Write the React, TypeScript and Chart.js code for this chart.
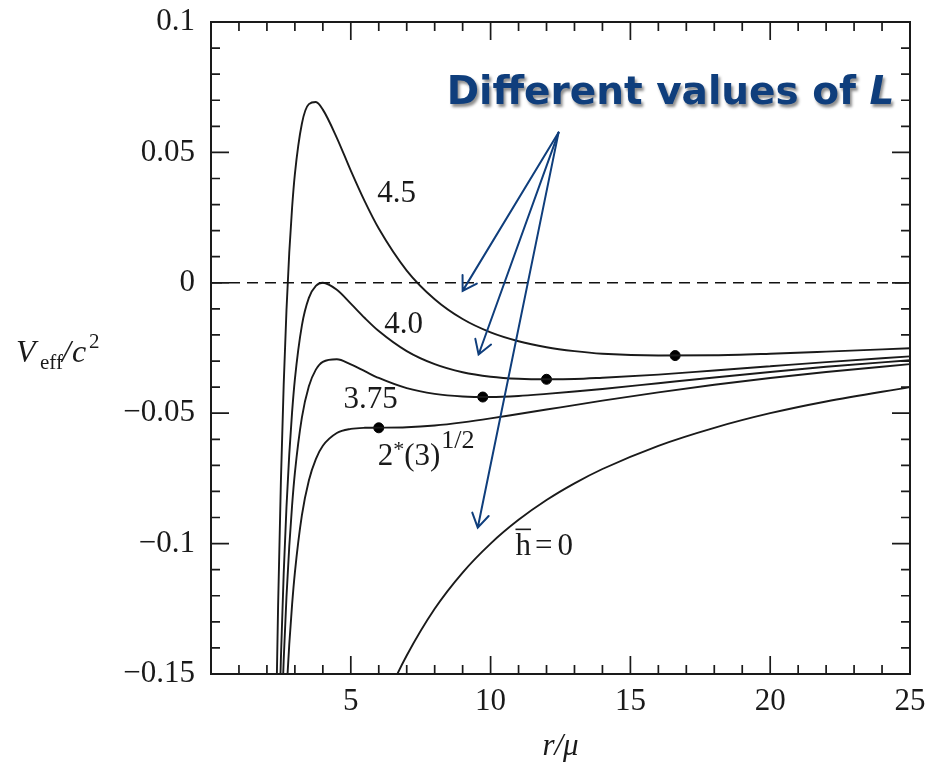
import React, { useEffect, useRef } from 'react';
import { Chart, registerables } from 'chart.js';

Chart.register(...registerables);

// ---- data ----
const R = [2.3, 2.4, 2.5, 2.6, 2.7, 2.8, 2.9, 3.0, 3.25, 3.5, 3.75, 4.0, 4.5, 5, 5.5, 6, 7, 8, 9, 10, 11, 12, 13, 14, 16, 18, 20, 22, 25];
const V_L45 = [-0.1851, -0.1237, -0.076, -0.039, -0.0103, 0.0118, 0.0288, 0.0417, 0.061, 0.0685, 0.0693, 0.0664, 0.0556, 0.043, 0.0312, 0.0208, 0.0047, -0.0063, -0.0139, -0.019, -0.0224, -0.0247, -0.0262, -0.0272, -0.0279, -0.0278, -0.0272, -0.0264, -0.0251];
const V_L40 = [-0.2375, -0.1852, -0.144, -0.1115, -0.0859, -0.0656, -0.0496, -0.037, -0.0164, -0.0058, -0.0012, 0.0, -0.0027, -0.008, -0.0135, -0.0185, -0.0262, -0.0312, -0.0343, -0.036, -0.0368, -0.037, -0.0369, -0.0364, -0.0352, -0.0336, -0.032, -0.0304, -0.0282];
const V_L375 = [-0.2614, -0.2132, -0.175, -0.1446, -0.1203, -0.1009, -0.0854, -0.0729, -0.0517, -0.0397, -0.0333, -0.0303, -0.0293, -0.0313, -0.0339, -0.0365, -0.0404, -0.0426, -0.0436, -0.0438, -0.0434, -0.0426, -0.0417, -0.0407, -0.0385, -0.0363, -0.0342, -0.0322, -0.0297];
const V_L2R3 = [-0.2868, -0.2431, -0.208, -0.1798, -0.157, -0.1385, -0.1234, -0.1111, -0.0892, -0.0758, -0.0676, -0.0625, -0.0576, -0.056, -0.0556, -0.05555, -0.0554, -0.0547, -0.0535, -0.052, -0.0503, -0.0486, -0.0469, -0.0452, -0.042, -0.0391, -0.0365, -0.0342, -0.0312];
const R_H0 = [6, 6.5, 7, 8, 9, 10, 11, 12, 13, 14, 16, 18, 20, 22, 25];
const V_H0 = [-0.1667, -0.1538, -0.1429, -0.125, -0.1111, -0.1, -0.0909, -0.0833, -0.0769, -0.0714, -0.0625, -0.0556, -0.05, -0.0455, -0.04];
const DOT_R = [16.6, 12.0, 9.72, 6.0];
const DOT_V = [-0.0279, -0.037, -0.0438, -0.0556];
const ZERO_R = [0, 25];
const ZERO_V = [0, 0];

const X_MIN = 0;
const X_MAX = 25;
const Y_MIN = -0.15;
const Y_MAX = 0.1;
const X_TICK_STEP = 5;
const Y_TICK_STEP = 0.05;

const TITLE_MAIN = 'Different values of ';
const TITLE_ITALIC = 'L';

// annotation anchors in data coordinates
const CURVE_LABELS = [
  { text: '4.5', r: 6.64, v: 0.034 },
  { text: '4.0', r: 6.89, v: -0.016 },
  { text: '3.75', r: 5.71, v: -0.045 },
];
const ARROW_FROM = { r: 12.43, v: 0.0576 };
const ARROW_TO = [
  { r: 9.0, v: -0.0031 },
  { r: 9.57, v: -0.0275 },
  { r: 9.54, v: -0.0939 },
];

const SERIF = '"Liberation Serif", "Times New Roman", serif';
const INK = '#1a1a1a';
const BLUE = '#0f3e7c';

const zip = (xs: number[], ys: number[]) => xs.map((x, i) => ({ x, y: ys[i] }));

const annotationPlugin = {
  id: 'annotations',
  afterDatasetsDraw(chart: any) {
    const { ctx, scales } = chart;
    const x = scales.x;
    const y = scales.y;
    const px = (r: number) => x.getPixelForValue(r);
    const py = (v: number) => y.getPixelForValue(v);
    ctx.save();
    ctx.fillStyle = INK;
    ctx.textBaseline = 'middle';
    ctx.textAlign = 'center';
    ctx.font = `31px ${SERIF}`;
    CURVE_LABELS.forEach((l) => ctx.fillText(l.text, px(l.r), py(l.v)));

    // 2*(3)^{1/2}
    ctx.textAlign = 'left';
    ctx.textBaseline = 'alphabetic';
    let cx = px(5.96);
    const by = py(-0.0698);
    ctx.font = `31px ${SERIF}`;
    ctx.fillText('2', cx, by);
    cx += ctx.measureText('2').width;
    ctx.font = `22px ${SERIF}`;
    ctx.fillText('*', cx, by - 9);
    cx += ctx.measureText('*').width;
    ctx.font = `31px ${SERIF}`;
    ctx.fillText('(3)', cx, by);
    cx += ctx.measureText('(3)').width + 1;
    ctx.font = `26px ${SERIF}`;
    ctx.fillText('1/2', cx, by - 17);

    // h-bar = 0
    const hx = px(10.89);
    const hy = py(-0.1042);
    ctx.font = `31px ${SERIF}`;
    ctx.fillText('h', hx, hy);
    const hw = ctx.measureText('h').width;
    ctx.fillRect(hx, hy - 26, hw, 1.6);
    ctx.fillText('=', hx + hw + 4, hy);
    const ew = ctx.measureText('=').width;
    ctx.fillText('0', hx + hw + ew + 9, hy);

    // arrows
    ctx.strokeStyle = BLUE;
    ctx.lineWidth = 2;
    ctx.lineCap = 'round';
    const ax = px(ARROW_FROM.r);
    const ay = py(ARROW_FROM.v);
    ARROW_TO.forEach((t) => {
      const tx = px(t.r);
      const ty = py(t.v);
      ctx.beginPath();
      ctx.moveTo(ax, ay);
      ctx.lineTo(tx, ty);
      const ang = Math.atan2(ty - ay, tx - ax);
      const L = 16;
      const spread = 0.55;
      ctx.moveTo(tx - L * Math.cos(ang - spread), ty - L * Math.sin(ang - spread));
      ctx.lineTo(tx, ty);
      ctx.lineTo(tx - L * Math.cos(ang + spread), ty - L * Math.sin(ang + spread));
      ctx.stroke();
    });

    // title
    ctx.font = `bold 39px "DejaVu Sans", Verdana, sans-serif`;
    ctx.fillStyle = BLUE;
    ctx.shadowColor = 'rgba(0,0,0,0.45)';
    ctx.shadowOffsetX = 2;
    ctx.shadowOffsetY = 3;
    ctx.shadowBlur = 3;
    const tx0 = px(8.43);
    const ty0 = py(0.0687);
    ctx.fillText(TITLE_MAIN, tx0, ty0);
    const mw = ctx.measureText(TITLE_MAIN).width;
    ctx.font = `italic bold 39px "DejaVu Sans", Verdana, sans-serif`;
    ctx.fillText(TITLE_ITALIC, tx0 + mw, ty0);
    ctx.restore();
  },
  afterDraw(chart: any) {
    const { ctx, chartArea: a, scales } = chart;
    const x = scales.x;
    const y = scales.y;
    ctx.save();
    ctx.strokeStyle = INK;
    ctx.lineWidth = 1.7;
    ctx.beginPath();
    for (let i = X_MIN; i <= X_MAX; i += 1) {
      const p = x.getPixelForValue(i);
      const len = i % X_TICK_STEP === 0 ? 18 : 9;
      ctx.moveTo(p, a.bottom);
      ctx.lineTo(p, a.bottom - len);
      ctx.moveTo(p, a.top);
      ctx.lineTo(p, a.top + len);
    }
    for (let k = Math.round(Y_MIN * 100); k <= Math.round(Y_MAX * 100); k += 1) {
      const p = y.getPixelForValue(k / 100);
      const len = k % 5 === 0 ? 18 : 9;
      ctx.moveTo(a.left, p);
      ctx.lineTo(a.left + len, p);
      ctx.moveTo(a.right, p);
      ctx.lineTo(a.right - len, p);
    }
    ctx.stroke();
    ctx.lineWidth = 2;
    ctx.strokeRect(a.left, a.top, a.right - a.left, a.bottom - a.top);

    // y-axis label V_eff / c^2
    ctx.fillStyle = INK;
    ctx.textAlign = 'left';
    ctx.textBaseline = 'alphabetic';
    ctx.font = `italic 32px ${SERIF}`;
    ctx.fillText('V', 16, 362);
    ctx.font = `21px ${SERIF}`;
    ctx.fillText('eff', 40, 369);
    ctx.font = `italic 32px ${SERIF}`;
    ctx.fillText('/', 62, 362);
    ctx.fillText('c', 72, 362);
    ctx.font = `21px ${SERIF}`;
    ctx.fillText('2', 89, 348);
    ctx.restore();
  },
};

export default function App() {
  const ref = useRef<HTMLCanvasElement | null>(null);
  useEffect(() => {
    if (!ref.current) return;
    const curve = (data: { x: number; y: number }[]) => ({
      type: 'line' as const,
      data,
      borderColor: INK,
      borderWidth: 1.9,
      pointRadius: 0,
      fill: false,
      cubicInterpolationMode: 'monotone' as const,
    });
    const chart = new Chart(ref.current, {
      type: 'line',
      data: {
        datasets: [
          {
            type: 'line',
            data: zip(ZERO_R, ZERO_V),
            borderColor: '#111',
            borderWidth: 1.6,
            borderDash: [11, 7],
            pointRadius: 0,
          } as any,
          curve(zip(R, V_L45)),
          curve(zip(R, V_L40)),
          curve(zip(R, V_L375)),
          curve(zip(R, V_L2R3)),
          curve(zip(R_H0, V_H0)),
          {
            type: 'scatter',
            data: zip(DOT_R, DOT_V),
            showLine: false,
            pointRadius: 5,
            pointBackgroundColor: '#000',
            pointBorderColor: '#000',
          } as any,
        ],
      },
      options: {
        responsive: false,
        animation: false,
        parsing: false as any,
        layout: { padding: { left: 0, right: 17, top: 22, bottom: 0 } },
        plugins: { legend: { display: false }, tooltip: { enabled: false }, title: { display: false } },
        scales: {
          x: {
            type: 'linear',
            min: X_MIN,
            max: X_MAX,
            afterFit: (s: any) => {
              s.height = 91;
              s.paddingLeft = 0;
              s.paddingRight = 0;
              s.paddingTop = 0;
              s.paddingBottom = 0;
            },
            grid: { display: false, drawTicks: false },
            border: { display: false },
            ticks: {
              stepSize: X_TICK_STEP,
              padding: 9,
              color: INK,
              font: { family: SERIF, size: 31 },
              callback: (v: any) => (Number(v) === 0 ? '' : String(v)),
            },
            title: {
              display: true,
              text: 'r/μ',
              color: INK,
              font: { family: SERIF, size: 31, style: 'italic' },
              padding: { top: 0, bottom: 0 },
            },
          },
          y: {
            type: 'linear',
            min: Y_MIN,
            max: Y_MAX,
            afterFit: (s: any) => {
              s.width = 211;
              s.paddingLeft = 0;
              s.paddingRight = 0;
              s.paddingTop = 0;
              s.paddingBottom = 0;
            },
            grid: { display: false, drawTicks: false },
            border: { display: false },
            ticks: {
              stepSize: Y_TICK_STEP,
              padding: 16,
              color: INK,
              font: { family: SERIF, size: 31 },
              callback: (v: any) => {
                const n = Math.round(Number(v) * 100) / 100;
                return String(n).replace('-', '\u2212');
              },
            },
          },
        },
      } as any,
      plugins: [annotationPlugin],
    });
    return () => chart.destroy();
  }, []);
  return (
    <div style={{ position: 'fixed', left: 0, top: 0, width: 927, height: 765, background: '#fff' }}>
      <canvas ref={ref} width={927} height={765} style={{ width: 927, height: 765, display: 'block' }} />
    </div>
  );
}
